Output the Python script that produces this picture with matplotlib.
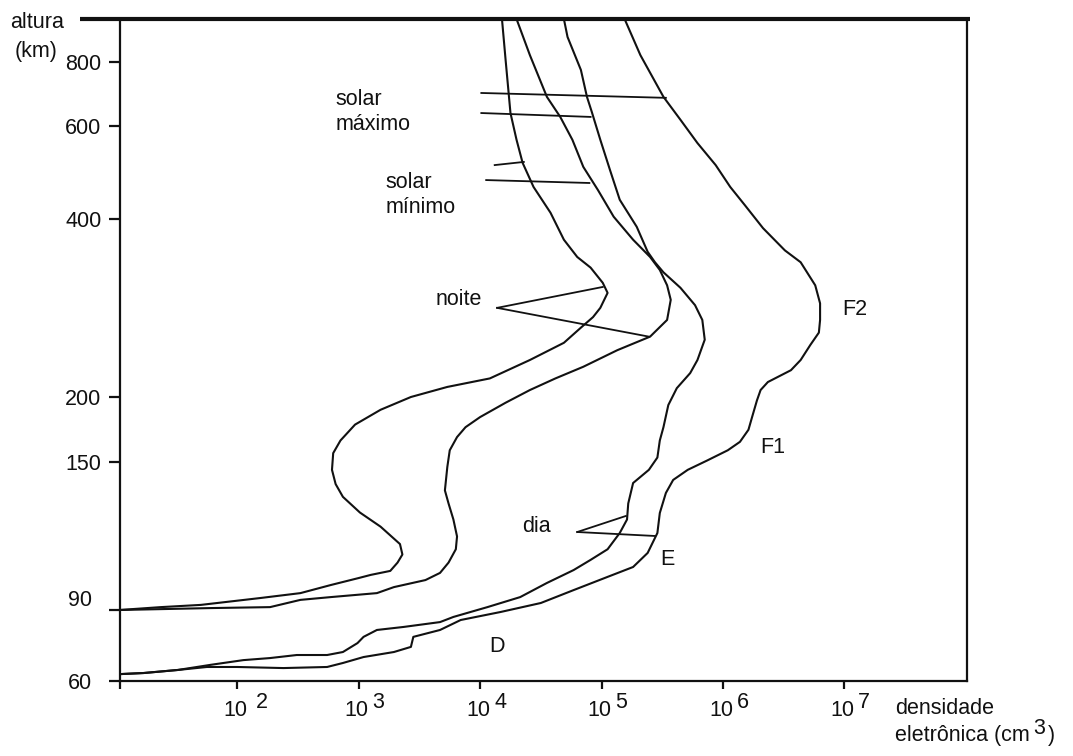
import numpy as np
import matplotlib
matplotlib.use("Agg")
import matplotlib.pyplot as plt
import matplotlib.transforms as mtrans
from matplotlib.lines import Line2D
from matplotlib.scale import FuncScale

plt.rcParams["font.family"] = ["Liberation Sans", "DejaVu Sans"]

# ── electron density profiles: log10(N) [cm^-3] vs altitude [km] ─────────────
night_a_logn = [4.18, 4.21, 4.25, 4.30, 4.35, 4.44, 4.58, 4.69, 4.80, 4.91,
                5.01, 5.05, 4.99, 4.93, 4.83, 4.69, 4.41, 4.08, 3.73, 3.43,
                3.18, 2.97, 2.85, 2.79, 2.78, 2.81, 2.87, 3.01, 3.18, 3.34,
                3.36, 3.32, 3.26, 3.10, 3.00, 2.77, 2.52, 2.19, 1.70, 1.37, 1.03]
night_a_alt = [970, 807, 636, 565, 511, 460, 411, 369, 345, 331,
               312, 300, 283, 273, 262, 247, 231, 215, 208, 200,
               189, 177, 165, 156, 146, 139, 133, 126, 120, 113,
               109, 106, 103, 101.6, 100.5, 98.1, 95.4, 93.8, 91.6, 90.9, 90]

night_b_logn = [4.30, 4.41, 4.55, 4.66, 4.76, 4.85, 4.97, 5.10, 5.26, 5.40,
                5.48, 5.54, 5.57, 5.54, 5.40, 5.13, 4.85, 4.62, 4.41, 4.21,
                4.00, 3.88, 3.81, 3.75, 3.73, 3.71, 3.74, 3.78, 3.81, 3.80,
                3.74, 3.67, 3.55, 3.29, 3.15, 2.77, 2.52, 2.27, 1.78, 1.03]
night_b_alt = [970, 825, 684, 625, 565, 502, 454, 404, 369, 345,
               328, 309, 292, 270, 253, 240, 225, 215, 205.5, 195,
               183, 175, 167.5, 158, 147.5, 136, 130, 123, 116, 111,
               106, 102.3, 99.8, 97.4, 95.4, 94.1, 93.2, 90.9, 90.6, 90]

day_a_logn = [4.69, 4.72, 4.83, 4.88, 4.92, 4.99, 5.07, 5.15, 5.29, 5.38,
              5.44, 5.51, 5.65, 5.77, 5.83, 5.85, 5.79, 5.73, 5.62, 5.55,
              5.51, 5.48, 5.46, 5.39, 5.26, 5.22, 5.21, 5.15, 5.05, 4.91,
              4.77, 4.55, 4.33, 4.06, 3.78, 3.67, 3.37, 3.15, 3.04, 2.99,
              2.87, 2.74, 2.49, 2.27, 2.05, 1.78, 1.51, 1.23, 1.03]
day_a_alt = [970, 895, 772, 684, 639, 565, 495, 435, 388, 352,
             338, 325, 306, 286, 270, 250, 231, 219.5, 207, 193,
             175, 165, 153, 146, 139.5, 130, 123, 117.4, 111, 107,
             103.3, 98.8, 94.1, 90.9, 86.5, 84.0, 81.7, 80.3, 77.2, 74.5,
             70.8, 69.6, 69.6, 68.4, 67.6, 65.8, 63.9, 62.8, 62.4]

day_b_logn = [5.19, 5.32, 5.51, 5.65, 5.79, 5.94, 6.06, 6.18, 6.33, 6.51,
              6.64, 6.76, 6.80, 6.80, 6.79, 6.72, 6.64, 6.56, 6.37, 6.31,
              6.28, 6.24, 6.21, 6.14, 6.04, 5.87, 5.71, 5.59, 5.53, 5.48,
              5.46, 5.38, 5.26, 5.05, 4.77, 4.50, 4.17, 3.84, 3.67, 3.45,
              3.43, 3.29, 3.04, 2.87, 2.74, 2.38, 2.00, 1.75, 1.51, 1.23, 1.03]
day_b_alt = [970, 825, 684, 617, 557, 506, 460, 425, 386, 354,
             338, 309, 288, 270, 257, 245, 231, 222, 212, 205.5,
             197, 183, 173, 164, 158, 151, 146, 141, 134.8, 125.8,
             117.4, 109.6, 104.4, 100.9, 96.4, 92.2, 89.0, 85.0, 80.3, 77.2,
             72.9, 70.8, 68.8, 66.5, 65.0, 64.6, 65.0, 65.0, 63.9, 62.8, 62.4]

# pointer lines of the labels: (log10 N, altitude) pairs
ptr_solar_max = [([4.01, 5.53], [696, 681]), ([4.01, 4.91], [636, 625])]
ptr_solar_min = [([4.12, 4.36], [506, 513]), ([4.05, 4.90], [474, 468])]
ptr_noite = [([4.14, 5.01], [283, 307]), ([4.14, 5.39], [283, 253])]
ptr_dia = [([4.80, 5.20], [117.8, 124.5]), ([4.80, 5.44], [117.8, 116.2])]

alt_ticks = [60, 90, 150, 200, 400, 600, 800]
dens_exps = [2, 3, 4, 5, 6, 7]

# hand-drawn altitude axis: knots and their relative position along the axis
alt_knots = np.log10([60, 90, 150, 200, 400, 600, 800, 970])
knot_pos = np.array([0, 71, 219, 284, 462, 555, 619, 662], dtype=float)


def _fwd(h):
    return np.interp(np.log10(np.clip(h, 1e-3, None)), alt_knots, knot_pos)


def _inv(v):
    return 10 ** np.interp(v, knot_pos, alt_knots)


W, H = 1073, 756
FS = 15.5
fig = plt.figure(figsize=(W / 100, H / 100), dpi=100)
ax = fig.add_axes([119.5 / W, 75 / H, (967 - 119.5) / W, 662 / H])

ink = "#111111"
for logn, alt in [(night_a_logn, night_a_alt), (night_b_logn, night_b_alt),
                  (day_a_logn, day_a_alt), (day_b_logn, day_b_alt)]:
    ax.plot(10 ** np.array(logn), alt, color=ink, lw=1.5, solid_joinstyle="round")

for group in (ptr_solar_max, ptr_solar_min, ptr_noite, ptr_dia):
    for lx, la in group:
        ax.plot(10 ** np.array(lx), la, color=ink, lw=1.3)

ax.set_xscale("log")
ax.set_yscale(FuncScale(ax, (_fwd, _inv)))
ax.set_xlim(10 ** 1.03, 10 ** 8.01)
ax.set_ylim(60, 970)

ax.spines["top"].set_visible(False)
for s in ("left", "bottom", "right"):
    ax.spines[s].set_linewidth(1.6)
    ax.spines[s].set_color(ink)

ax.set_yticks(alt_ticks)
ax.set_yticklabels([str(t) for t in alt_ticks], fontsize=FS, color=ink)
ax.yaxis.set_minor_locator(matplotlib.ticker.NullLocator())
ax.tick_params(axis="y", direction="out", length=8, width=1.6, pad=5, color=ink)

ax.set_xticks([10 ** 1.03] + [10.0 ** e for e in dens_exps])
ax.set_xticklabels([])
ax.xaxis.set_minor_locator(matplotlib.ticker.NullLocator())
ax.tick_params(axis="x", direction="out", length=6, width=1.6, color=ink)

# 60 and 90 labels sit a little off their ticks in the original
ylabels = ax.get_yticklabels()
ylabels[0].set_transform(ylabels[0].get_transform()
                         + mtrans.ScaledTranslation(-9 / 100, 0, fig.dpi_scale_trans))
ylabels[1].set_transform(ylabels[1].get_transform()
                         + mtrans.ScaledTranslation(-9 / 100, 12 / 100, fig.dpi_scale_trans))

for e in dens_exps:
    x = 10.0 ** e
    ax.annotate("10", (x, 0), xycoords=("data", "axes fraction"),
                xytext=(-2, -30), textcoords="offset pixels",
                ha="center", va="center", fontsize=FS, color=ink)
    ax.annotate(str(e), (x, 0), xycoords=("data", "axes fraction"),
                xytext=(19 if e == 2 else 14, -21), textcoords="offset pixels",
                ha="left", va="center", fontsize=FS, color=ink)

# curve labels
txt = dict(fontsize=FS, color=ink)
ax.text(10 ** 2.81, 639, "solar\nmáximo", ha="left", va="center", linespacing=1.3, **txt)
ax.text(10 ** 3.22, 444, "solar\nmínimo", ha="left", va="center", linespacing=1.3, **txt)
ax.text(10 ** 3.63, 292, "noite", ha="left", va="center", **txt)
ax.text(10 ** 4.46, 120, "dia", ha="center", va="center", **txt)
ax.text(10 ** 4.14, 72.9, "D", ha="center", va="center", **txt)
ax.text(10 ** 5.54, 107, "E", ha="center", va="center", **txt)
ax.text(10 ** 6.41, 160, "F1", ha="center", va="center", **txt)
ax.text(10 ** 7.09, 281, "F2", ha="center", va="center", **txt)

# top bar and axis titles
fig.add_artist(Line2D([80 / W, 970 / W], [1 - 19 / H] * 2, color=ink, lw=3,
                      transform=fig.transFigure, solid_capstyle="butt"))
fig.text(10 / W, 1 - 22 / H, "altura", ha="left", va="center", **txt)
fig.text(15 / W, 1 - 52 / H, "(km)", ha="left", va="center", **txt)
fig.text(895 / W, 1 - 708 / H, "densidade", ha="left", va="center", **txt)
unit = fig.text(895 / W, 1 - 735 / H, "eletrônica (cm", ha="left", va="center", **txt)
fig.canvas.draw()
x1 = unit.get_window_extent().x1
sup = fig.text((x1 + 3) / W, 1 - 728 / H, "3", ha="left", va="center", **txt)
fig.canvas.draw()
x2 = sup.get_window_extent().x1
fig.text((x2 + 3) / W, 1 - 735 / H, ")", ha="left", va="center", **txt)

fig.savefig("out.png", dpi=100)
